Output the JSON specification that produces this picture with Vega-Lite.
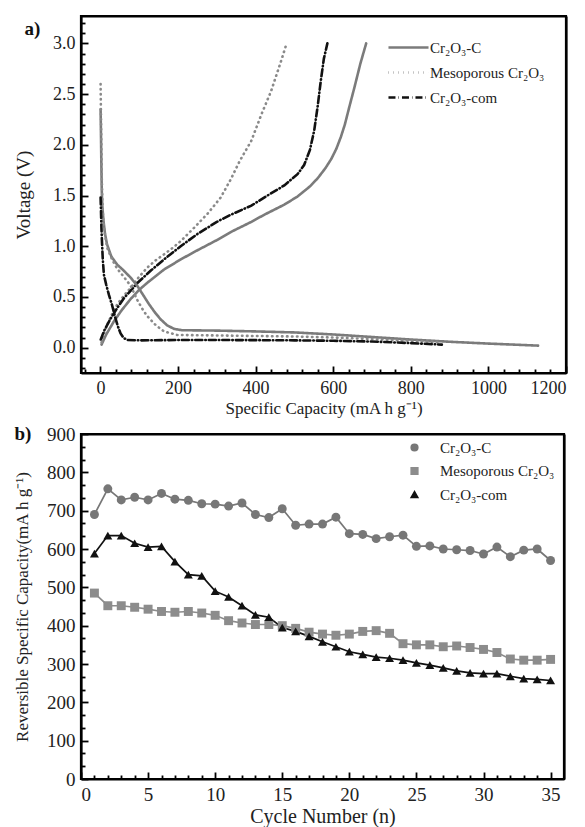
{
  "$schema": "https://vega.github.io/schema/vega-lite/v6.json",
  "background": "white",
  "padding": {"left": 12, "top": 14, "right": 2, "bottom": 1},
  "spacing": 4,
  "resolve": {
    "scale": {"color": "independent", "strokeDash": "independent", "shape": "independent"},
    "legend": {"color": "independent", "strokeDash": "independent", "shape": "independent"}
  },
  "config": {
    "font": "Liberation Serif",
    "view": {"stroke": "black", "strokeWidth": 2.2},
    "axis": {
      "labelFont": "Liberation Serif",
      "labelColor": "#222",
      "titleFont": "Liberation Serif",
      "titleColor": "#222",
      "titleFontWeight": "normal",
      "domain": false,
      "domainColor": "black",
      "domainWidth": 2.2,
      "domainOpacity": 1,
      "grid": false,
      "tickColor": "black",
      "tickWidth": 1.8,
      "tickOpacity": 1,
      "labelOverlap": false
    },
    "legend": {"labelFont": "Liberation Serif", "labelColor": "#222", "labelFontSize": 15}
  },
  "datasets": {
    "profiles": [
      {"series": "Cr₂O₃-C", "curve": "d", "cap": 0.5, "v": 2.35},
      {"series": "Cr₂O₃-C", "curve": "d", "cap": 1.5, "v": 2.1},
      {"series": "Cr₂O₃-C", "curve": "d", "cap": 2.5, "v": 1.8},
      {"series": "Cr₂O₃-C", "curve": "d", "cap": 3.5, "v": 1.55},
      {"series": "Cr₂O₃-C", "curve": "d", "cap": 5, "v": 1.4},
      {"series": "Cr₂O₃-C", "curve": "d", "cap": 8, "v": 1.25},
      {"series": "Cr₂O₃-C", "curve": "d", "cap": 12, "v": 1.12},
      {"series": "Cr₂O₃-C", "curve": "d", "cap": 17, "v": 1.02},
      {"series": "Cr₂O₃-C", "curve": "d", "cap": 28, "v": 0.9},
      {"series": "Cr₂O₃-C", "curve": "d", "cap": 43, "v": 0.82},
      {"series": "Cr₂O₃-C", "curve": "d", "cap": 60, "v": 0.76},
      {"series": "Cr₂O₃-C", "curve": "d", "cap": 78, "v": 0.69},
      {"series": "Cr₂O₃-C", "curve": "d", "cap": 95, "v": 0.61},
      {"series": "Cr₂O₃-C", "curve": "d", "cap": 110, "v": 0.52},
      {"series": "Cr₂O₃-C", "curve": "d", "cap": 125, "v": 0.43},
      {"series": "Cr₂O₃-C", "curve": "d", "cap": 140, "v": 0.35},
      {"series": "Cr₂O₃-C", "curve": "d", "cap": 155, "v": 0.28},
      {"series": "Cr₂O₃-C", "curve": "d", "cap": 172, "v": 0.22},
      {"series": "Cr₂O₃-C", "curve": "d", "cap": 190, "v": 0.185},
      {"series": "Cr₂O₃-C", "curve": "d", "cap": 210, "v": 0.172},
      {"series": "Cr₂O₃-C", "curve": "d", "cap": 300, "v": 0.168},
      {"series": "Cr₂O₃-C", "curve": "d", "cap": 400, "v": 0.16},
      {"series": "Cr₂O₃-C", "curve": "d", "cap": 500, "v": 0.15},
      {"series": "Cr₂O₃-C", "curve": "d", "cap": 600, "v": 0.13},
      {"series": "Cr₂O₃-C", "curve": "d", "cap": 700, "v": 0.105},
      {"series": "Cr₂O₃-C", "curve": "d", "cap": 800, "v": 0.08},
      {"series": "Cr₂O₃-C", "curve": "d", "cap": 900, "v": 0.058},
      {"series": "Cr₂O₃-C", "curve": "d", "cap": 1000, "v": 0.04},
      {"series": "Cr₂O₃-C", "curve": "d", "cap": 1128, "v": 0.02},
      {"series": "Cr₂O₃-C", "curve": "c", "cap": 3, "v": 0.03},
      {"series": "Cr₂O₃-C", "curve": "c", "cap": 15, "v": 0.13},
      {"series": "Cr₂O₃-C", "curve": "c", "cap": 35, "v": 0.26},
      {"series": "Cr₂O₃-C", "curve": "c", "cap": 55, "v": 0.37},
      {"series": "Cr₂O₃-C", "curve": "c", "cap": 78, "v": 0.48},
      {"series": "Cr₂O₃-C", "curve": "c", "cap": 100, "v": 0.57},
      {"series": "Cr₂O₃-C", "curve": "c", "cap": 121, "v": 0.64},
      {"series": "Cr₂O₃-C", "curve": "c", "cap": 164, "v": 0.77},
      {"series": "Cr₂O₃-C", "curve": "c", "cap": 207, "v": 0.87},
      {"series": "Cr₂O₃-C", "curve": "c", "cap": 250, "v": 0.96},
      {"series": "Cr₂O₃-C", "curve": "c", "cap": 300, "v": 1.06},
      {"series": "Cr₂O₃-C", "curve": "c", "cap": 336, "v": 1.14},
      {"series": "Cr₂O₃-C", "curve": "c", "cap": 389, "v": 1.24},
      {"series": "Cr₂O₃-C", "curve": "c", "cap": 422, "v": 1.31},
      {"series": "Cr₂O₃-C", "curve": "c", "cap": 474, "v": 1.41},
      {"series": "Cr₂O₃-C", "curve": "c", "cap": 508, "v": 1.49},
      {"series": "Cr₂O₃-C", "curve": "c", "cap": 540, "v": 1.59},
      {"series": "Cr₂O₃-C", "curve": "c", "cap": 560, "v": 1.67},
      {"series": "Cr₂O₃-C", "curve": "c", "cap": 580, "v": 1.77},
      {"series": "Cr₂O₃-C", "curve": "c", "cap": 595, "v": 1.86},
      {"series": "Cr₂O₃-C", "curve": "c", "cap": 608, "v": 1.96},
      {"series": "Cr₂O₃-C", "curve": "c", "cap": 620, "v": 2.08},
      {"series": "Cr₂O₃-C", "curve": "c", "cap": 630, "v": 2.2},
      {"series": "Cr₂O₃-C", "curve": "c", "cap": 642, "v": 2.38},
      {"series": "Cr₂O₃-C", "curve": "c", "cap": 655, "v": 2.57},
      {"series": "Cr₂O₃-C", "curve": "c", "cap": 670, "v": 2.8},
      {"series": "Cr₂O₃-C", "curve": "c", "cap": 685, "v": 3.0},
      {"series": "Mesoporous Cr₂O₃", "curve": "d", "cap": 0.5, "v": 2.6},
      {"series": "Mesoporous Cr₂O₃", "curve": "d", "cap": 1.5, "v": 2.3},
      {"series": "Mesoporous Cr₂O₃", "curve": "d", "cap": 2.5, "v": 2.0},
      {"series": "Mesoporous Cr₂O₃", "curve": "d", "cap": 3.5, "v": 1.7},
      {"series": "Mesoporous Cr₂O₃", "curve": "d", "cap": 5, "v": 1.45},
      {"series": "Mesoporous Cr₂O₃", "curve": "d", "cap": 7, "v": 1.28},
      {"series": "Mesoporous Cr₂O₃", "curve": "d", "cap": 10, "v": 1.15},
      {"series": "Mesoporous Cr₂O₃", "curve": "d", "cap": 18, "v": 0.98},
      {"series": "Mesoporous Cr₂O₃", "curve": "d", "cap": 30, "v": 0.87},
      {"series": "Mesoporous Cr₂O₃", "curve": "d", "cap": 43, "v": 0.78},
      {"series": "Mesoporous Cr₂O₃", "curve": "d", "cap": 60, "v": 0.7},
      {"series": "Mesoporous Cr₂O₃", "curve": "d", "cap": 78, "v": 0.61},
      {"series": "Mesoporous Cr₂O₃", "curve": "d", "cap": 95, "v": 0.47},
      {"series": "Mesoporous Cr₂O₃", "curve": "d", "cap": 110, "v": 0.37},
      {"series": "Mesoporous Cr₂O₃", "curve": "d", "cap": 121, "v": 0.31},
      {"series": "Mesoporous Cr₂O₃", "curve": "d", "cap": 143, "v": 0.22},
      {"series": "Mesoporous Cr₂O₃", "curve": "d", "cap": 164, "v": 0.16},
      {"series": "Mesoporous Cr₂O₃", "curve": "d", "cap": 198, "v": 0.125},
      {"series": "Mesoporous Cr₂O₃", "curve": "d", "cap": 300, "v": 0.12},
      {"series": "Mesoporous Cr₂O₃", "curve": "d", "cap": 400, "v": 0.115},
      {"series": "Mesoporous Cr₂O₃", "curve": "d", "cap": 500, "v": 0.11},
      {"series": "Mesoporous Cr₂O₃", "curve": "d", "cap": 600, "v": 0.1},
      {"series": "Mesoporous Cr₂O₃", "curve": "d", "cap": 700, "v": 0.085},
      {"series": "Mesoporous Cr₂O₃", "curve": "d", "cap": 800, "v": 0.068},
      {"series": "Mesoporous Cr₂O₃", "curve": "d", "cap": 870, "v": 0.055},
      {"series": "Mesoporous Cr₂O₃", "curve": "c", "cap": 3, "v": 0.05},
      {"series": "Mesoporous Cr₂O₃", "curve": "c", "cap": 10, "v": 0.15},
      {"series": "Mesoporous Cr₂O₃", "curve": "c", "cap": 18, "v": 0.23},
      {"series": "Mesoporous Cr₂O₃", "curve": "c", "cap": 30, "v": 0.33},
      {"series": "Mesoporous Cr₂O₃", "curve": "c", "cap": 44, "v": 0.43},
      {"series": "Mesoporous Cr₂O₃", "curve": "c", "cap": 60, "v": 0.51},
      {"series": "Mesoporous Cr₂O₃", "curve": "c", "cap": 78, "v": 0.59},
      {"series": "Mesoporous Cr₂O₃", "curve": "c", "cap": 100, "v": 0.7},
      {"series": "Mesoporous Cr₂O₃", "curve": "c", "cap": 121, "v": 0.79},
      {"series": "Mesoporous Cr₂O₃", "curve": "c", "cap": 142, "v": 0.86},
      {"series": "Mesoporous Cr₂O₃", "curve": "c", "cap": 164, "v": 0.92},
      {"series": "Mesoporous Cr₂O₃", "curve": "c", "cap": 185, "v": 0.98},
      {"series": "Mesoporous Cr₂O₃", "curve": "c", "cap": 207, "v": 1.05},
      {"series": "Mesoporous Cr₂O₃", "curve": "c", "cap": 241, "v": 1.18},
      {"series": "Mesoporous Cr₂O₃", "curve": "c", "cap": 276, "v": 1.32},
      {"series": "Mesoporous Cr₂O₃", "curve": "c", "cap": 310, "v": 1.48},
      {"series": "Mesoporous Cr₂O₃", "curve": "c", "cap": 336, "v": 1.66},
      {"series": "Mesoporous Cr₂O₃", "curve": "c", "cap": 359, "v": 1.84},
      {"series": "Mesoporous Cr₂O₃", "curve": "c", "cap": 389, "v": 2.04},
      {"series": "Mesoporous Cr₂O₃", "curve": "c", "cap": 415, "v": 2.3},
      {"series": "Mesoporous Cr₂O₃", "curve": "c", "cap": 440, "v": 2.53},
      {"series": "Mesoporous Cr₂O₃", "curve": "c", "cap": 466, "v": 2.83},
      {"series": "Mesoporous Cr₂O₃", "curve": "c", "cap": 480, "v": 3.0},
      {"series": "Cr₂O₃-com", "curve": "d", "cap": 0.5, "v": 1.48},
      {"series": "Cr₂O₃-com", "curve": "d", "cap": 1.5, "v": 1.35},
      {"series": "Cr₂O₃-com", "curve": "d", "cap": 2.5, "v": 1.2},
      {"series": "Cr₂O₃-com", "curve": "d", "cap": 4, "v": 1.05},
      {"series": "Cr₂O₃-com", "curve": "d", "cap": 6, "v": 0.88},
      {"series": "Cr₂O₃-com", "curve": "d", "cap": 9, "v": 0.72},
      {"series": "Cr₂O₃-com", "curve": "d", "cap": 15, "v": 0.62},
      {"series": "Cr₂O₃-com", "curve": "d", "cap": 22, "v": 0.52},
      {"series": "Cr₂O₃-com", "curve": "d", "cap": 30, "v": 0.42},
      {"series": "Cr₂O₃-com", "curve": "d", "cap": 38, "v": 0.3},
      {"series": "Cr₂O₃-com", "curve": "d", "cap": 45, "v": 0.21},
      {"series": "Cr₂O₃-com", "curve": "d", "cap": 52, "v": 0.14},
      {"series": "Cr₂O₃-com", "curve": "d", "cap": 60, "v": 0.095},
      {"series": "Cr₂O₃-com", "curve": "d", "cap": 70, "v": 0.075},
      {"series": "Cr₂O₃-com", "curve": "d", "cap": 100, "v": 0.072},
      {"series": "Cr₂O₃-com", "curve": "d", "cap": 200, "v": 0.075},
      {"series": "Cr₂O₃-com", "curve": "d", "cap": 300, "v": 0.075},
      {"series": "Cr₂O₃-com", "curve": "d", "cap": 400, "v": 0.074},
      {"series": "Cr₂O₃-com", "curve": "d", "cap": 500, "v": 0.072},
      {"series": "Cr₂O₃-com", "curve": "d", "cap": 600, "v": 0.068},
      {"series": "Cr₂O₃-com", "curve": "d", "cap": 700, "v": 0.06},
      {"series": "Cr₂O₃-com", "curve": "d", "cap": 800, "v": 0.045},
      {"series": "Cr₂O₃-com", "curve": "d", "cap": 880, "v": 0.03},
      {"series": "Cr₂O₃-com", "curve": "c", "cap": 1, "v": 0.08},
      {"series": "Cr₂O₃-com", "curve": "c", "cap": 10, "v": 0.17},
      {"series": "Cr₂O₃-com", "curve": "c", "cap": 27, "v": 0.29},
      {"series": "Cr₂O₃-com", "curve": "c", "cap": 45, "v": 0.4},
      {"series": "Cr₂O₃-com", "curve": "c", "cap": 61, "v": 0.49},
      {"series": "Cr₂O₃-com", "curve": "c", "cap": 80, "v": 0.57},
      {"series": "Cr₂O₃-com", "curve": "c", "cap": 96, "v": 0.64},
      {"series": "Cr₂O₃-com", "curve": "c", "cap": 130, "v": 0.76},
      {"series": "Cr₂O₃-com", "curve": "c", "cap": 164, "v": 0.87},
      {"series": "Cr₂O₃-com", "curve": "c", "cap": 207, "v": 1.0},
      {"series": "Cr₂O₃-com", "curve": "c", "cap": 250, "v": 1.12},
      {"series": "Cr₂O₃-com", "curve": "c", "cap": 300, "v": 1.24},
      {"series": "Cr₂O₃-com", "curve": "c", "cap": 336, "v": 1.31},
      {"series": "Cr₂O₃-com", "curve": "c", "cap": 389, "v": 1.4},
      {"series": "Cr₂O₃-com", "curve": "c", "cap": 422, "v": 1.48},
      {"series": "Cr₂O₃-com", "curve": "c", "cap": 474, "v": 1.6},
      {"series": "Cr₂O₃-com", "curve": "c", "cap": 508, "v": 1.71},
      {"series": "Cr₂O₃-com", "curve": "c", "cap": 525, "v": 1.8},
      {"series": "Cr₂O₃-com", "curve": "c", "cap": 540, "v": 1.95},
      {"series": "Cr₂O₃-com", "curve": "c", "cap": 551, "v": 2.14},
      {"series": "Cr₂O₃-com", "curve": "c", "cap": 560, "v": 2.38},
      {"series": "Cr₂O₃-com", "curve": "c", "cap": 568, "v": 2.63},
      {"series": "Cr₂O₃-com", "curve": "c", "cap": 576, "v": 2.85},
      {"series": "Cr₂O₃-com", "curve": "c", "cap": 585, "v": 3.0}
    ],
    "cycling": [
      {"series": "Cr₂O₃-C", "cycle": 1, "cap": 690}, {"series": "Cr₂O₃-C", "cycle": 2, "cap": 757},
      {"series": "Cr₂O₃-C", "cycle": 3, "cap": 728}, {"series": "Cr₂O₃-C", "cycle": 4, "cap": 735},
      {"series": "Cr₂O₃-C", "cycle": 5, "cap": 728}, {"series": "Cr₂O₃-C", "cycle": 6, "cap": 745},
      {"series": "Cr₂O₃-C", "cycle": 7, "cap": 730}, {"series": "Cr₂O₃-C", "cycle": 8, "cap": 727},
      {"series": "Cr₂O₃-C", "cycle": 9, "cap": 718}, {"series": "Cr₂O₃-C", "cycle": 10, "cap": 717},
      {"series": "Cr₂O₃-C", "cycle": 11, "cap": 712}, {"series": "Cr₂O₃-C", "cycle": 12, "cap": 720},
      {"series": "Cr₂O₃-C", "cycle": 13, "cap": 690}, {"series": "Cr₂O₃-C", "cycle": 14, "cap": 682},
      {"series": "Cr₂O₃-C", "cycle": 15, "cap": 705}, {"series": "Cr₂O₃-C", "cycle": 16, "cap": 662},
      {"series": "Cr₂O₃-C", "cycle": 17, "cap": 665}, {"series": "Cr₂O₃-C", "cycle": 18, "cap": 665},
      {"series": "Cr₂O₃-C", "cycle": 19, "cap": 683}, {"series": "Cr₂O₃-C", "cycle": 20, "cap": 640},
      {"series": "Cr₂O₃-C", "cycle": 21, "cap": 638}, {"series": "Cr₂O₃-C", "cycle": 22, "cap": 627},
      {"series": "Cr₂O₃-C", "cycle": 23, "cap": 632}, {"series": "Cr₂O₃-C", "cycle": 24, "cap": 636},
      {"series": "Cr₂O₃-C", "cycle": 25, "cap": 607}, {"series": "Cr₂O₃-C", "cycle": 26, "cap": 608},
      {"series": "Cr₂O₃-C", "cycle": 27, "cap": 600}, {"series": "Cr₂O₃-C", "cycle": 28, "cap": 598},
      {"series": "Cr₂O₃-C", "cycle": 29, "cap": 596}, {"series": "Cr₂O₃-C", "cycle": 30, "cap": 587},
      {"series": "Cr₂O₃-C", "cycle": 31, "cap": 605}, {"series": "Cr₂O₃-C", "cycle": 32, "cap": 580},
      {"series": "Cr₂O₃-C", "cycle": 33, "cap": 597}, {"series": "Cr₂O₃-C", "cycle": 34, "cap": 600},
      {"series": "Cr₂O₃-C", "cycle": 35, "cap": 570},
      {"series": "Mesoporous Cr₂O₃", "cycle": 1, "cap": 485}, {"series": "Mesoporous Cr₂O₃", "cycle": 2, "cap": 452},
      {"series": "Mesoporous Cr₂O₃", "cycle": 3, "cap": 452}, {"series": "Mesoporous Cr₂O₃", "cycle": 4, "cap": 448},
      {"series": "Mesoporous Cr₂O₃", "cycle": 5, "cap": 443}, {"series": "Mesoporous Cr₂O₃", "cycle": 6, "cap": 437},
      {"series": "Mesoporous Cr₂O₃", "cycle": 7, "cap": 435}, {"series": "Mesoporous Cr₂O₃", "cycle": 8, "cap": 437},
      {"series": "Mesoporous Cr₂O₃", "cycle": 9, "cap": 433}, {"series": "Mesoporous Cr₂O₃", "cycle": 10, "cap": 427},
      {"series": "Mesoporous Cr₂O₃", "cycle": 11, "cap": 413}, {"series": "Mesoporous Cr₂O₃", "cycle": 12, "cap": 407},
      {"series": "Mesoporous Cr₂O₃", "cycle": 13, "cap": 403}, {"series": "Mesoporous Cr₂O₃", "cycle": 14, "cap": 403},
      {"series": "Mesoporous Cr₂O₃", "cycle": 15, "cap": 400}, {"series": "Mesoporous Cr₂O₃", "cycle": 16, "cap": 393},
      {"series": "Mesoporous Cr₂O₃", "cycle": 17, "cap": 383}, {"series": "Mesoporous Cr₂O₃", "cycle": 18, "cap": 378},
      {"series": "Mesoporous Cr₂O₃", "cycle": 19, "cap": 375}, {"series": "Mesoporous Cr₂O₃", "cycle": 20, "cap": 378},
      {"series": "Mesoporous Cr₂O₃", "cycle": 21, "cap": 385}, {"series": "Mesoporous Cr₂O₃", "cycle": 22, "cap": 387},
      {"series": "Mesoporous Cr₂O₃", "cycle": 23, "cap": 380}, {"series": "Mesoporous Cr₂O₃", "cycle": 24, "cap": 353},
      {"series": "Mesoporous Cr₂O₃", "cycle": 25, "cap": 350}, {"series": "Mesoporous Cr₂O₃", "cycle": 26, "cap": 350},
      {"series": "Mesoporous Cr₂O₃", "cycle": 27, "cap": 345}, {"series": "Mesoporous Cr₂O₃", "cycle": 28, "cap": 347},
      {"series": "Mesoporous Cr₂O₃", "cycle": 29, "cap": 343}, {"series": "Mesoporous Cr₂O₃", "cycle": 30, "cap": 338},
      {"series": "Mesoporous Cr₂O₃", "cycle": 31, "cap": 330}, {"series": "Mesoporous Cr₂O₃", "cycle": 32, "cap": 313},
      {"series": "Mesoporous Cr₂O₃", "cycle": 33, "cap": 310}, {"series": "Mesoporous Cr₂O₃", "cycle": 34, "cap": 310},
      {"series": "Mesoporous Cr₂O₃", "cycle": 35, "cap": 312},
      {"series": "Cr₂O₃-com", "cycle": 1, "cap": 588}, {"series": "Cr₂O₃-com", "cycle": 2, "cap": 635},
      {"series": "Cr₂O₃-com", "cycle": 3, "cap": 635}, {"series": "Cr₂O₃-com", "cycle": 4, "cap": 615},
      {"series": "Cr₂O₃-com", "cycle": 5, "cap": 605}, {"series": "Cr₂O₃-com", "cycle": 6, "cap": 607},
      {"series": "Cr₂O₃-com", "cycle": 7, "cap": 567}, {"series": "Cr₂O₃-com", "cycle": 8, "cap": 533},
      {"series": "Cr₂O₃-com", "cycle": 9, "cap": 530}, {"series": "Cr₂O₃-com", "cycle": 10, "cap": 490},
      {"series": "Cr₂O₃-com", "cycle": 11, "cap": 475}, {"series": "Cr₂O₃-com", "cycle": 12, "cap": 452},
      {"series": "Cr₂O₃-com", "cycle": 13, "cap": 428}, {"series": "Cr₂O₃-com", "cycle": 14, "cap": 422},
      {"series": "Cr₂O₃-com", "cycle": 15, "cap": 395}, {"series": "Cr₂O₃-com", "cycle": 16, "cap": 385},
      {"series": "Cr₂O₃-com", "cycle": 17, "cap": 372}, {"series": "Cr₂O₃-com", "cycle": 18, "cap": 358},
      {"series": "Cr₂O₃-com", "cycle": 19, "cap": 345}, {"series": "Cr₂O₃-com", "cycle": 20, "cap": 332},
      {"series": "Cr₂O₃-com", "cycle": 21, "cap": 325}, {"series": "Cr₂O₃-com", "cycle": 22, "cap": 318},
      {"series": "Cr₂O₃-com", "cycle": 23, "cap": 315}, {"series": "Cr₂O₃-com", "cycle": 24, "cap": 310},
      {"series": "Cr₂O₃-com", "cycle": 25, "cap": 303}, {"series": "Cr₂O₃-com", "cycle": 26, "cap": 297},
      {"series": "Cr₂O₃-com", "cycle": 27, "cap": 290}, {"series": "Cr₂O₃-com", "cycle": 28, "cap": 282},
      {"series": "Cr₂O₃-com", "cycle": 29, "cap": 277}, {"series": "Cr₂O₃-com", "cycle": 30, "cap": 275},
      {"series": "Cr₂O₃-com", "cycle": 31, "cap": 275}, {"series": "Cr₂O₃-com", "cycle": 32, "cap": 268},
      {"series": "Cr₂O₃-com", "cycle": 33, "cap": 262}, {"series": "Cr₂O₃-com", "cycle": 34, "cap": 260},
      {"series": "Cr₂O₃-com", "cycle": 35, "cap": 257}
    ]
  },
  "vconcat": [
    {
      "width": 485,
      "height": 357,
      "data": {"name": "profiles"},
      "resolve": {"axis": {"x": "independent", "y": "independent"}},
      "encoding": {
        "detail": {"field": "curve"},
        "color": {
          "field": "series", "type": "nominal",
          "scale": {"domain": ["Cr₂O₃-C", "Mesoporous Cr₂O₃", "Cr₂O₃-com"], "range": ["#7b7b7b", "#8a8a8a", "#111111"]},
          "legend": {"title": null, "orient": "none", "legendX": 313, "legendY": 17, "symbolType": "M-1.54,0H1.54", "symbolSize": 676, "symbolStrokeWidth": 2.6, "labelFontSize": 15, "rowPadding": 2, "labelOffset": 7, "padding": 0}
        },
        "strokeDash": {
          "field": "series", "type": "nominal",
          "scale": {"domain": ["Cr₂O₃-C", "Mesoporous Cr₂O₃", "Cr₂O₃-com"], "range": [[1, 0], [0.5, 4.5], [7, 3, 0.5, 3]]},
          "legend": {"title": null, "orient": "none", "legendX": 313, "legendY": 17, "symbolType": "M-1.54,0H1.54", "symbolSize": 676, "symbolStrokeWidth": 2.6, "labelFontSize": 15, "rowPadding": 2, "labelOffset": 7, "padding": 0}
        }
      },
      "layer": [
        {
          "transform": [{"filter": "datum.curve === 'c'"}],
          "mark": {"type": "line", "strokeWidth": 2.6, "strokeCap": "round"},
          "encoding": {
            "x": {
              "field": "cap", "type": "quantitative",
              "scale": {"domain": [-50, 1200], "nice": false, "zero": false},
              "axis": {
                "orient": "bottom",
                "domain": true,
                "title": "Specific Capacity (mA h g⁻¹)",
                "titleFontSize": 17, "titlePadding": 3,
                "labelFontSize": 18, "labelPadding": 13,
                "values": [0, 200, 400, 600, 800, 1000, 1200],
                "format": "d",
                "tickSize": -7
              }
            },
            "y": {
              "field": "v", "type": "quantitative",
              "scale": {"domain": [-0.25, 3.27], "nice": false, "zero": false},
              "axis": {
                "orient": "left",
                "domain": true,
                "title": "Voltage (V)",
                "titleFontSize": 19, "titlePadding": 19,
                "labelFontSize": 18, "labelPadding": 13,
                "values": [0, 0.5, 1, 1.5, 2, 2.5, 3],
                "format": ".1f",
                "tickSize": -7
              }
            }
          }
        },
        {
          "transform": [{"filter": "datum.curve === 'd' && datum.series !== 'Cr₂O₃-com'"}],
          "mark": {"type": "line", "strokeWidth": 2.6, "strokeCap": "round"},
          "encoding": {
            "x": {
              "field": "cap", "type": "quantitative",
              "scale": {"domain": [-50, 1200], "nice": false, "zero": false},
              "axis": {
                "orient": "bottom",
                "title": null,
                "labels": false,
                "values": [-40,40,80,120,160,240,280,320,360,440,480,520,560,640,680,720,760,840,880,920,960,1040,1080,1120,1160],
                "tickSize": -4
              }
            },
            "y": {
              "field": "v", "type": "quantitative",
              "scale": {"domain": [-0.25, 3.27], "nice": false, "zero": false},
              "axis": {
                "orient": "left",
                "title": "a)",
                "titleAngle": 0, "titleX": -57, "titleY": 18.5,
                "titleAlign": "left", "titleBaseline": "alphabetic",
                "titleFontSize": 19, "titleFontWeight": "bold", "titleColor": "#111",
                "labels": false,
                "values": [-0.2,-0.1,0.1,0.2,0.3,0.4,0.6,0.7,0.8,0.9,1.1,1.2,1.3,1.4,1.6,1.7,1.8,1.9,2.1,2.2,2.3,2.4,2.6,2.7,2.8,2.9,3.1,3.2],
                "tickSize": -4
              }
            }
          }
        },
        {
          "transform": [{"filter": "datum.curve === 'd' && datum.series === 'Cr₂O₃-com'"}],
          "mark": {"type": "line", "strokeWidth": 2.6, "strokeCap": "round"},
          "encoding": {
            "x": {
              "field": "cap", "type": "quantitative",
              "scale": {"domain": [-50, 1200], "nice": false, "zero": false},
              "axis": {"orient": "top", "domain": true, "ticks": false, "labels": false, "title": null}
            },
            "y": {
              "field": "v", "type": "quantitative",
              "scale": {"domain": [-0.25, 3.27], "nice": false, "zero": false},
              "axis": {"orient": "right", "domain": true, "ticks": false, "labels": false, "title": null}
            }
          }
        }
      ]
    },
    {
      "width": 483,
      "height": 345,
      "data": {"name": "cycling"},
      "resolve": {"axis": {"x": "independent", "y": "independent"}},
      "encoding": {
        "color": {
          "field": "series", "type": "nominal",
          "scale": {"domain": ["Cr₂O₃-C", "Mesoporous Cr₂O₃", "Cr₂O₃-com"], "range": ["#777777", "#8c8c8c", "#111111"]},
          "legend": {"title": null, "orient": "none", "legendX": 326, "legendY": 6, "labelFontSize": 15, "rowPadding": 7.5, "symbolSize": 45, "labelOffset": 18, "padding": 0}
        }
      },
      "layer": [
        {
          "mark": {"type": "line", "strokeWidth": 1.7},
          "encoding": {
            "x": {
              "field": "cycle", "type": "quantitative",
              "scale": {"domain": [0, 36], "nice": false, "zero": false},
              "axis": {
                "orient": "bottom",
                "domain": true,
                "title": "Cycle Number (n)",
                "titleFontSize": 20, "titlePadding": 2,
                "labelFontSize": 19, "labelPadding": 13,
                "values": [0, 5, 10, 15, 20, 25, 30, 35],
                "tickSize": -7
              }
            },
            "y": {
              "field": "cap", "type": "quantitative",
              "scale": {"domain": [0, 900], "nice": false},
              "axis": {
                "orient": "left",
                "domain": true,
                "title": "Reversible Specific Capacity(mA h g⁻¹)",
                "titleFontSize": 17, "titlePadding": 15,
                "labelFontSize": 19, "labelPadding": 13,
                "values": [0, 100, 200, 300, 400, 500, 600, 700, 800, 900],
                "tickSize": -7
              }
            }
          }
        },
        {
          "transform": [{"filter": "datum.series !== 'Cr₂O₃-com'"}],
          "mark": {"type": "point", "filled": true, "opacity": 1, "size": 80},
          "encoding": {
            "x": {
              "field": "cycle", "type": "quantitative",
              "scale": {"domain": [0, 36], "nice": false, "zero": false},
              "axis": {
                "orient": "bottom",
                "title": null,
                "labels": false,
                "values": [1,2,3,4,6,7,8,9,11,12,13,14,16,17,18,19,21,22,23,24,26,27,28,29,31,32,33,34],
                "tickSize": -4
              }
            },
            "y": {
              "field": "cap", "type": "quantitative",
              "scale": {"domain": [0, 900], "nice": false},
              "axis": {
                "orient": "left",
                "title": "b)",
                "titleAngle": 0, "titleX": -67, "titleY": 5,
                "titleAlign": "left", "titleBaseline": "alphabetic",
                "titleFontSize": 19, "titleFontWeight": "bold", "titleColor": "#111",
                "labels": false,
                "values": [33.333,66.667,133.333,166.667,233.333,266.667,333.333,366.667,433.333,466.667,533.333,566.667,633.333,666.667,733.333,766.667,833.333,866.667],
                "tickSize": -4
              }
            },
            "shape": {
              "field": "series", "type": "nominal",
              "scale": {"domain": ["Cr₂O₃-C", "Mesoporous Cr₂O₃", "Cr₂O₃-com"], "range": ["circle", "square", "triangle-up"]},
              "legend": {"title": null, "orient": "none", "legendX": 326, "legendY": 6, "labelFontSize": 15, "rowPadding": 7.5, "symbolSize": 45, "labelOffset": 18, "padding": 0}
            }
          }
        },
        {
          "transform": [{"filter": "datum.series === 'Cr₂O₃-com'"}],
          "mark": {"type": "point", "filled": true, "opacity": 1, "size": 80},
          "encoding": {
            "x": {
              "field": "cycle", "type": "quantitative",
              "scale": {"domain": [0, 36], "nice": false, "zero": false},
              "axis": {"orient": "top", "domain": true, "ticks": false, "labels": false, "title": null}
            },
            "y": {
              "field": "cap", "type": "quantitative",
              "scale": {"domain": [0, 900], "nice": false},
              "axis": {"orient": "right", "domain": true, "ticks": false, "labels": false, "title": null}
            },
            "shape": {
              "field": "series", "type": "nominal",
              "scale": {"domain": ["Cr₂O₃-C", "Mesoporous Cr₂O₃", "Cr₂O₃-com"], "range": ["circle", "square", "triangle-up"]},
              "legend": {"title": null, "orient": "none", "legendX": 326, "legendY": 6, "labelFontSize": 15, "rowPadding": 7.5, "symbolSize": 45, "labelOffset": 18, "padding": 0}
            }
          }
        }
      ]
    }
  ]
}
